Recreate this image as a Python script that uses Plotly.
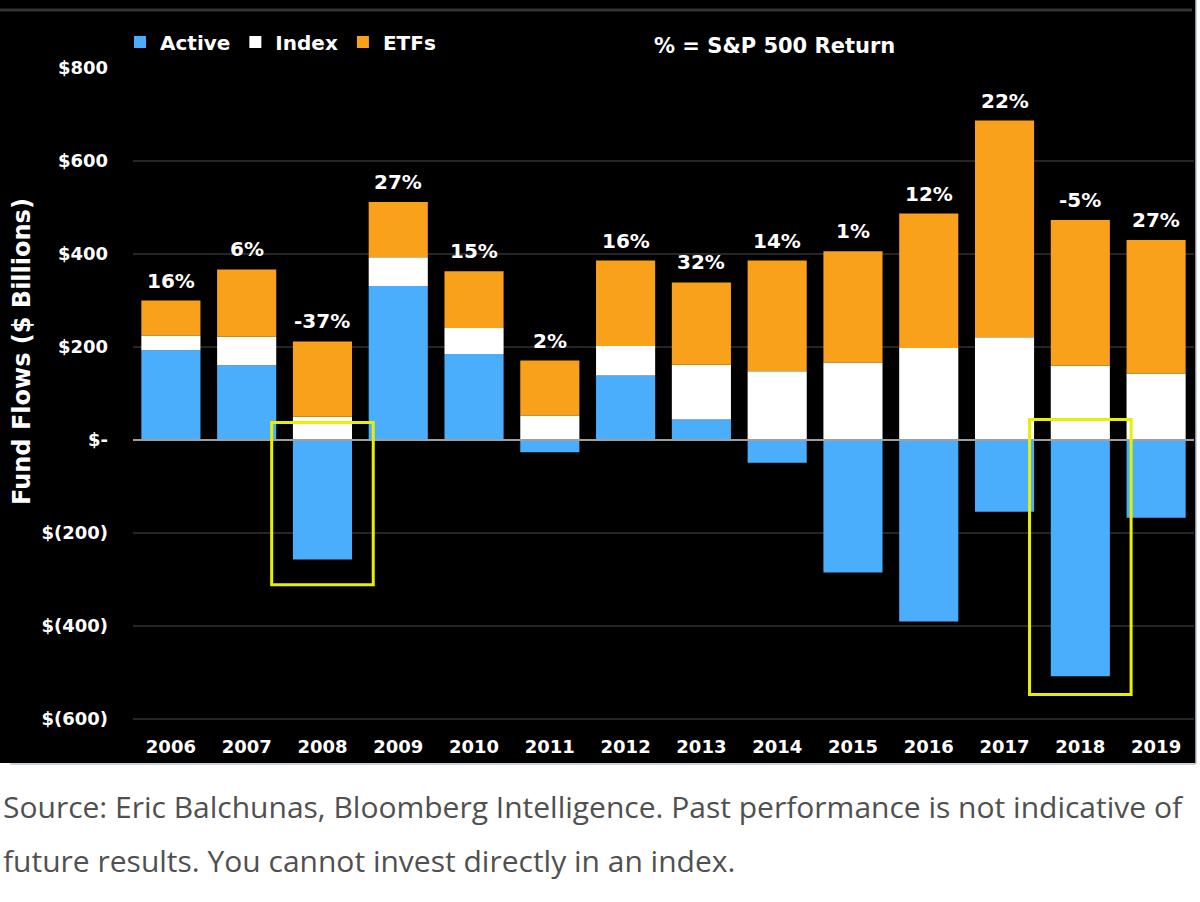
import plotly.graph_objects as go

years = ["2006", "2007", "2008", "2009", "2010", "2011", "2012",
         "2013", "2014", "2015", "2016", "2017", "2018", "2019"]
active = [193, 161, -257, 331, 185, -26, 139, 44, -49, -285, -390, -154, -508, -167]
index_ = [32, 61, 50, 62, 56, 53, 63, 118, 148, 167, 198, 221, 160, 143]
etfs = [75, 145, 162, 119, 122, 118, 184, 177, 238, 239, 289, 466, 313, 287]
sp_return = ["16%", "6%", "-37%", "27%", "15%", "2%", "16%",
             "32%", "14%", "1%", "12%", "22%", "-5%", "27%"]
y_ticks = [800, 600, 400, 200, 0, -200, -400, -600]
y_tick_text = ["$800", "$600", "$400", "$200", "$-", "$(200)", "$(400)", "$(600)"]
highlight_years = ["2008", "2018"]
highlight_low = [-311, -547]
highlight_high = [38, 44]

BLUE = "#4aaefc"
ORANGE = "#f9a11b"
FONT = "DejaVu Sans"

W, H = 1200, 902
ML, MR, MT, MB = 133, 6, 68, 168
PW = W - ML - MR
PH = H - MT - MB


def px_x(p):
    return (p - ML) / PW


def px_y(p):
    return (H - MB - p) / PH


fig = go.Figure()
fig.add_trace(go.Bar(name="Active", x=years, y=active, marker=dict(color=BLUE, line=dict(width=0))))
fig.add_trace(go.Bar(name="Index", x=years, y=index_, marker=dict(color="#ffffff", line=dict(width=0))))
fig.add_trace(go.Bar(name="ETFs", x=years, y=etfs, marker=dict(color=ORANGE, line=dict(width=0))))

totals = [max(a, 0) + i + e for a, i, e in zip(active, index_, etfs)]
annotations = []
for k, (tot, lab) in enumerate(zip(totals, sp_return)):
    annotations.append(dict(x=k, y=tot, xref="x", yref="y", text=lab, showarrow=False,
                            yanchor="bottom", yshift=6,
                            font=dict(family=FONT, size=20, color="white", weight="bold")))

annotations.append(dict(xref="paper", yref="paper", x=px_x(652), y=px_y(46), xanchor="left",
                        yanchor="middle", text="% = S&P 500 Return", showarrow=False,
                        font=dict(family=FONT, size=21, color="white", weight="bold")))
annotations.append(dict(xref="paper", yref="paper", x=px_x(22), y=px_y(352), xanchor="center",
                        yanchor="middle", text="Fund Flows ($ Billions)", textangle=-90,
                        showarrow=False,
                        font=dict(family=FONT, size=24, color="white", weight="bold")))
annotations.append(dict(xref="paper", yref="paper", x=px_x(1), y=px_y(806), xanchor="left",
                        yanchor="middle",
                        text="Source: Eric Balchunas, Bloomberg Intelligence. Past performance is not indicative of",
                        showarrow=False, font=dict(family="Open Sans", size=30, color="#505050")))
annotations.append(dict(xref="paper", yref="paper", x=px_x(1), y=px_y(860), xanchor="left",
                        yanchor="middle",
                        text="future results. You cannot invest directly in an index.",
                        showarrow=False, font=dict(family="Open Sans", size=30, color="#505050")))

shapes = [
    # black chart frame
    dict(type="rect", xref="paper", yref="paper", x0=px_x(0), x1=px_x(1196),
         y0=px_y(763), y1=px_y(0), fillcolor="black", line=dict(width=0), layer="below"),
    dict(type="line", xref="paper", yref="paper", x0=px_x(0), x1=px_x(1192),
         y0=px_y(10), y1=px_y(10), line=dict(color="#333333", width=3), layer="below"),
    dict(type="line", xref="paper", yref="paper", x0=px_x(1196), x1=px_x(1196),
         y0=px_y(0), y1=px_y(764), line=dict(color="#b8c4d4", width=1.5)),
    dict(type="line", xref="paper", yref="paper", x0=px_x(10), x1=px_x(1196),
         y0=px_y(764), y1=px_y(764), line=dict(color="#b8c4d4", width=1.5)),
    # zero line over bars
    dict(type="line", xref="paper", yref="y", x0=0, x1=1, y0=0, y1=0,
         line=dict(color="#a0a0a0", width=2), layer="above"),
]
for yr, lo, hi in zip(highlight_years, highlight_low, highlight_high):
    k = years.index(yr)
    shapes.append(dict(type="rect", xref="x", yref="y", x0=k - 0.67, x1=k + 0.67,
                       y0=lo, y1=hi, line=dict(color="#e8f000", width=3),
                       fillcolor="rgba(0,0,0,0)", layer="above"))

fig.update_layout(
    width=W, height=H,
    margin=dict(l=ML, r=MR, t=MT, b=MB, pad=0),
    paper_bgcolor="white",
    plot_bgcolor="black",
    barmode="relative",
    bargap=0.22,
    showlegend=True,
    legend=dict(orientation="h", x=px_x(120), y=px_y(42), xanchor="left", yanchor="middle",
                bgcolor="rgba(0,0,0,0)", traceorder="normal",
                font=dict(family=FONT, size=20, color="white", weight="bold")),
    xaxis=dict(type="category", showgrid=False, zeroline=False, showline=False,
               ticks="", tickfont=dict(family=FONT, size=18, color="white", weight="bold")),
    yaxis=dict(range=[-632, 800], tickvals=y_ticks, ticktext=y_tick_text,
               showgrid=True, gridcolor="#262626", gridwidth=2, zeroline=False,
               showline=False, ticks="", ticklabelstandoff=24,
               tickfont=dict(family=FONT, size=18, color="white", weight="bold")),
    annotations=annotations,
    shapes=shapes,
)

fig.write_html("out.html", config={"displayModeBar": False},
               post_script="document.body.style.margin='0';")
